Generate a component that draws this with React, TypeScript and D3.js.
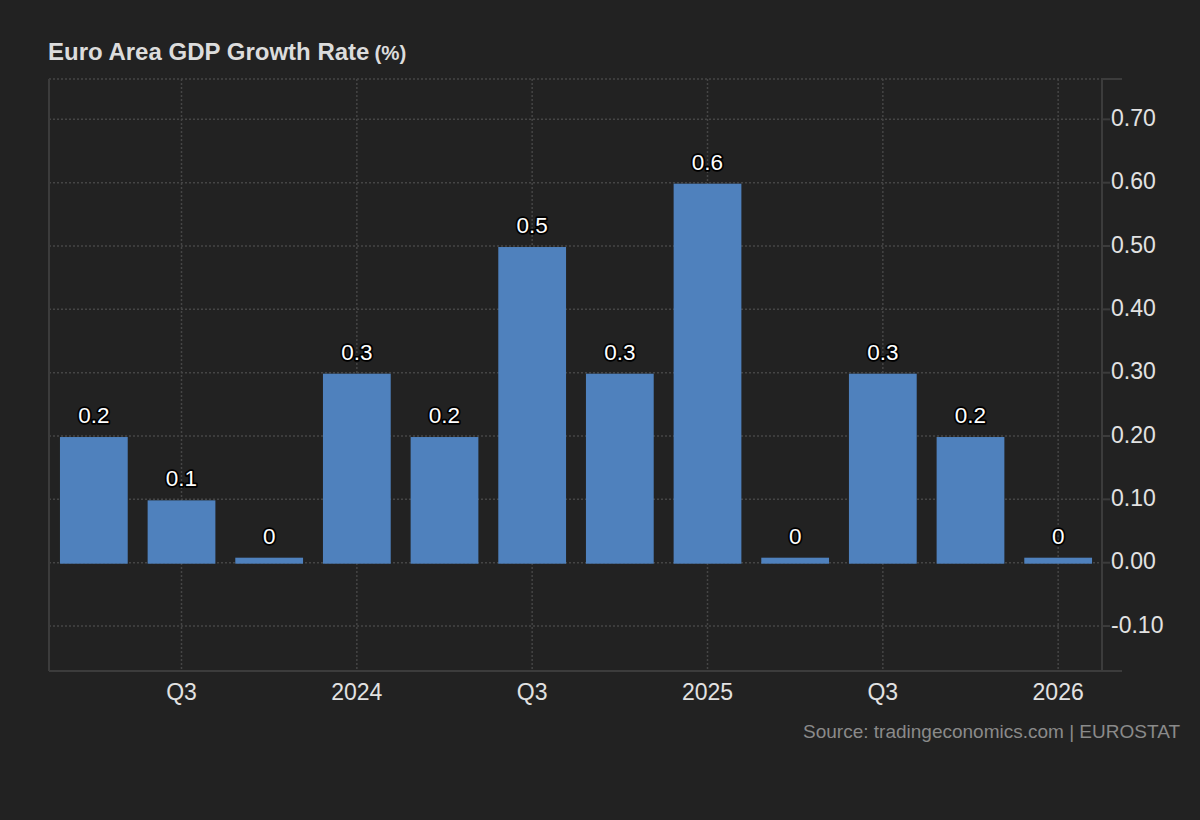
import * as d3 from "d3"

const quarters = [
  "2023Q2", "2023Q3", "2023Q4", "2024Q1", "2024Q2", "2024Q3",
  "2024Q4", "2025Q1", "2025Q2", "2025Q3", "2025Q4", "2026Q1",
]
const growth = [0.2, 0.1, 0, 0.3, 0.2, 0.5, 0.3, 0.6, 0, 0.3, 0.2, 0]
const xTickQuarters = ["2023Q3", "2024Q1", "2024Q3", "2025Q1", "2025Q3", "2026Q1"]
const xTickLabels = ["Q3", "2024", "Q3", "2025", "Q3", "2026"]
const yTicks = [-0.1, 0, 0.1, 0.2, 0.3, 0.4, 0.5, 0.6, 0.7]

const W = 1200
const H = 820
const left = 49
const right = 1102
const top = 79
const bottom = 671

const font = "Arial, 'Liberation Sans', sans-serif"
const gridColor = "#454545"
const axisColor = "#3c3c3c"

export default function App() {
  const x = d3
    .scaleBand<string>()
    .domain(quarters)
    .range([left + 1, right])
    .paddingInner(0.227)
    .paddingOuter(0.1136)

  const y = d3.scaleLinear().domain([-0.171, 0.7637]).range([bottom, top])
  // plain hyphen for negatives
  const fmt = (v: number) => d3.format(".2f")(v).replace("\u2212", "-")
  const center = (q: string) => (x(q) ?? 0) + x.bandwidth() / 2
  const y0 = y(0) + 1
  const barTop = (v: number) => y0 - Math.max(y0 - (y(v) + 1), 6)

  return (
    <div style={{ position: "fixed", left: 0, top: 0 }}>
      <svg width={W} height={H} style={{ display: "block", fontFamily: font }}>
        <rect width={W} height={H} fill="#222222" />

        <text x={48} y={60} fill="#dcdcdc" fontWeight="bold" fontSize={24}>
          Euro Area GDP Growth Rate
          <tspan fontSize={20.5} dx={5}>(%)</tspan>
        </text>

        {/* horizontal grid */}
        {yTicks.map((t) => (
          <line key={t} x1={left} x2={right} y1={y(t)} y2={y(t)}
            stroke={gridColor} strokeWidth={1.5} strokeDasharray="2,2" />
        ))}
        <line x1={left} x2={right} y1={top} y2={top}
          stroke={gridColor} strokeWidth={1.5} strokeDasharray="2,2" />

        {/* vertical grid */}
        {xTickQuarters.map((q) => (
          <line key={q} x1={center(q)} x2={center(q)} y1={top} y2={bottom}
            stroke={gridColor} strokeWidth={1.5} strokeDasharray="2,2" />
        ))}

        {/* frame */}
        <line x1={left} x2={left} y1={top} y2={bottom} stroke={axisColor} strokeWidth={2} />
        <line x1={left} x2={1122} y1={bottom} y2={bottom} stroke={axisColor} strokeWidth={2} />
        <line x1={right} x2={right} y1={top} y2={bottom} stroke={axisColor} strokeWidth={2} />
        <line x1={right} x2={1122} y1={top} y2={top} stroke={axisColor} strokeWidth={2} />

        {/* y axis ticks */}
        {yTicks.map((t) => (
          <g key={t}>
            <line x1={right} x2={1110} y1={y(t)} y2={y(t)} stroke={axisColor} strokeWidth={2} />
            <text x={1111} y={y(t) + 6.5} fill="#e2e2e2" fontSize={23}>
              {fmt(t)}
            </text>
          </g>
        ))}

        {/* x axis labels */}
        {xTickQuarters.map((q, i) => (
          <text key={q} x={center(q)} y={700} fill="#e2e2e2" fontSize={23} textAnchor="middle">
            {xTickLabels[i]}
          </text>
        ))}

        {/* bars */}
        {quarters.map((q, i) => {
          const t = barTop(growth[i])
          return (
            <rect key={q} x={x(q)} y={t} width={x.bandwidth()} height={y0 - t} fill="#4f81bd" />
          )
        })}

        {/* value labels */}
        {quarters.map((q, i) => (
          <text key={q} x={center(q)} y={barTop(growth[i]) - 14} fontSize={22.5} textAnchor="middle"
            fill="#ffffff" stroke="#000000" strokeWidth={3.5} paintOrder="stroke"
            strokeLinejoin="round">
            {String(growth[i])}
          </text>
        ))}

        <text x={1180} y={738} fill="#8a8a8a" fontSize={19} textAnchor="end">
          Source: tradingeconomics.com | EUROSTAT
        </text>
      </svg>
    </div>
  )
}
